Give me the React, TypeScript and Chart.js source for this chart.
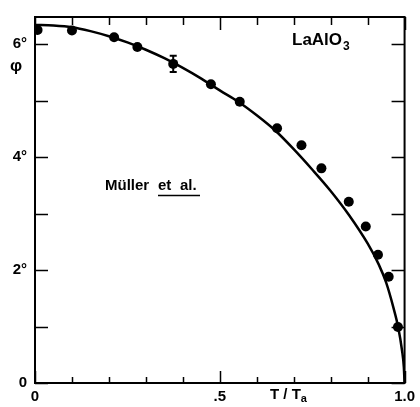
import React, { useEffect, useRef } from 'react';
import { Chart, registerables } from 'chart.js';

Chart.register(...registerables);

// Measured points (T/Ta, phi in degrees)
const measuredT = [0.007, 0.10, 0.214, 0.277, 0.374, 0.476, 0.554, 0.655, 0.721, 0.775, 0.849, 0.895, 0.928, 0.957, 0.982];
const measuredPhi = [6.25, 6.24, 6.12, 5.95, 5.65, 5.29, 4.98, 4.51, 4.21, 3.80, 3.21, 2.77, 2.27, 1.88, 0.99];
const errorIndex = 4;
const errorHalf = 0.145;

// Theory curve
const curveT = [0, 0.05, 0.1, 0.15, 0.2, 0.25, 0.3, 0.35, 0.4, 0.45, 0.5, 0.55, 0.6, 0.65, 0.7, 0.75, 0.8, 0.85, 0.9, 0.93, 0.95, 0.97, 0.983, 0.993, 0.998, 1.0];
const curvePhi = [6.34, 6.33, 6.30, 6.23, 6.14, 6.03, 5.90, 5.75, 5.58, 5.39, 5.18, 4.98, 4.74, 4.47, 4.14, 3.78, 3.40, 2.97, 2.47, 2.10, 1.78, 1.33, 0.98, 0.58, 0.28, 0];

const xTickValues = [0, 0.5, 1.0];
const xTickLabels = ['0', '.5', '1.0'];
const yTickValues = [0, 2, 4, 6];
const yTickLabels = ['0', '2°', '4°', '6°'];

const FONT = "'Liberation Sans', Arial, sans-serif";

const framePlugin = {
  id: 'frame',
  beforeDatasetsDraw(chart: any) {
    const { ctx, chartArea: a, scales } = chart;
    const x = scales.x, y = scales.y;
    ctx.save();
    ctx.strokeStyle = '#000';
    ctx.lineWidth = 2;
    ctx.strokeRect(a.left, a.top, a.right - a.left, a.bottom - a.top);
    ctx.lineWidth = 1.5;
    ctx.beginPath();
    for (let i = 0; i <= 10; i++) {
      const px = Math.round(x.getPixelForValue(i / 10)) + 0.5;
      const major = i % 5 === 0;
      ctx.moveTo(px, a.bottom);
      ctx.lineTo(px, a.bottom - (major ? 12 : 6));
      ctx.moveTo(px, a.top);
      ctx.lineTo(px, a.top + (major ? 13 : 8));
    }
    for (let i = 0; i <= 6; i++) {
      const py = Math.round(y.getPixelForValue(i)) + 0.5;
      ctx.moveTo(a.left, py);
      ctx.lineTo(a.left + 13, py);
      ctx.moveTo(a.right, py);
      ctx.lineTo(a.right - 13, py);
    }
    ctx.stroke();
    ctx.restore();
  },
  afterDatasetsDraw(chart: any) {
    const { ctx, scales } = chart;
    const x = scales.x, y = scales.y;
    ctx.save();
    // error bar
    const ex = x.getPixelForValue(measuredT[errorIndex]);
    const eTop = y.getPixelForValue(measuredPhi[errorIndex] + errorHalf);
    const eBot = y.getPixelForValue(measuredPhi[errorIndex] - errorHalf);
    ctx.strokeStyle = '#000';
    ctx.lineWidth = 2;
    ctx.beginPath();
    ctx.moveTo(ex, eTop); ctx.lineTo(ex, eBot);
    ctx.moveTo(ex - 3.5, eTop); ctx.lineTo(ex + 3.5, eTop);
    ctx.moveTo(ex - 3.5, eBot); ctx.lineTo(ex + 3.5, eBot);
    ctx.stroke();

    ctx.fillStyle = '#000';
    ctx.textBaseline = 'middle';
    ctx.textAlign = 'left';
    // LaAlO3
    ctx.font = `bold 17px ${FONT}`;
    ctx.fillText('LaAlO', 292, 40);
    const w = ctx.measureText('LaAlO').width;
    ctx.font = `bold 12px ${FONT}`;
    ctx.fillText('3', 292 + w + 1, 47);
    // Müller et al.
    ctx.font = `bold 15px ${FONT}`;
    ctx.fillText('Müller', 105, 186);
    ctx.fillText('et', 158, 186);
    ctx.fillText('al.', 180, 186);
    ctx.lineWidth = 1.5;
    ctx.beginPath();
    ctx.moveTo(158, 195.5); ctx.lineTo(200, 195.5);
    ctx.stroke();
    // phi axis label
    ctx.textAlign = 'center';
    ctx.font = `bold 17px ${FONT}`;
    ctx.fillText('φ', 16, 66);
    // T/Ta axis label
    ctx.textAlign = 'left';
    ctx.font = `bold 15px ${FONT}`;
    ctx.fillText('T / T', 270, 395);
    const tw = ctx.measureText('T / T').width;
    ctx.font = `bold 11px ${FONT}`;
    ctx.fillText('a', 270 + tw, 399);
    ctx.restore();
  },
};

export default function App() {
  const ref = useRef<HTMLCanvasElement>(null);
  useEffect(() => {
    if (!ref.current) return;
    const chart = new Chart(ref.current, {
      type: 'scatter',
      data: {
        datasets: [
          {
            label: 'measured',
            data: measuredT.map((t, i) => ({ x: t, y: measuredPhi[i] })),
            pointRadius: 5,
            pointBackgroundColor: '#000',
            pointBorderColor: '#000',
            pointBorderWidth: 0,
            showLine: false,
          },
          {
            label: 'theory',
            data: curveT.map((t, i) => ({ x: t, y: curvePhi[i] })),
            showLine: true,
            pointRadius: 0,
            borderColor: '#000',
            borderWidth: 2.5,
            cubicInterpolationMode: 'monotone',
            fill: false,
          },
        ],
      },
      options: {
        animation: false,
        responsive: true,
        maintainAspectRatio: false,
        layout: { padding: { top: 12, right: 15, left: 0, bottom: 0 } },
        plugins: { legend: { display: false }, tooltip: { enabled: false } },
        scales: {
          x: {
            type: 'linear',
            min: 0,
            max: 1,
            afterFit: (s: any) => { s.height = 24; },
            afterBuildTicks: (s: any) => { s.ticks = xTickValues.map((v) => ({ value: v })); },
            grid: { display: false, drawTicks: false },
            border: { display: false },
            ticks: {
              padding: 5,
              color: '#000',
              font: { family: FONT, size: 15, weight: 'bold' },
              maxRotation: 0,
              callback: (v: any) => {
                const i = xTickValues.indexOf(Number(v));
                return i >= 0 ? xTickLabels[i] : '';
              },
            },
          },
          y: {
            type: 'linear',
            min: 0,
            max: 6.48,
            afterFit: (s: any) => { s.width = 35; },
            afterBuildTicks: (s: any) => { s.ticks = yTickValues.map((v) => ({ value: v })); },
            grid: { display: false, drawTicks: false },
            border: { display: false },
            ticks: {
              padding: 8,
              color: '#000',
              font: { family: FONT, size: 15, weight: 'bold' },
              callback: (v: any) => {
                const i = yTickValues.indexOf(Number(v));
                return i >= 0 ? yTickLabels[i] : '';
              },
            },
          },
        },
      },
      plugins: [framePlugin],
    } as any);
    return () => chart.destroy();
  }, []);
  return (
    <div style={{ position: 'fixed', left: 0, top: 0, width: 420, height: 407, background: '#fff' }}>
      <canvas ref={ref} />
    </div>
  );
}
